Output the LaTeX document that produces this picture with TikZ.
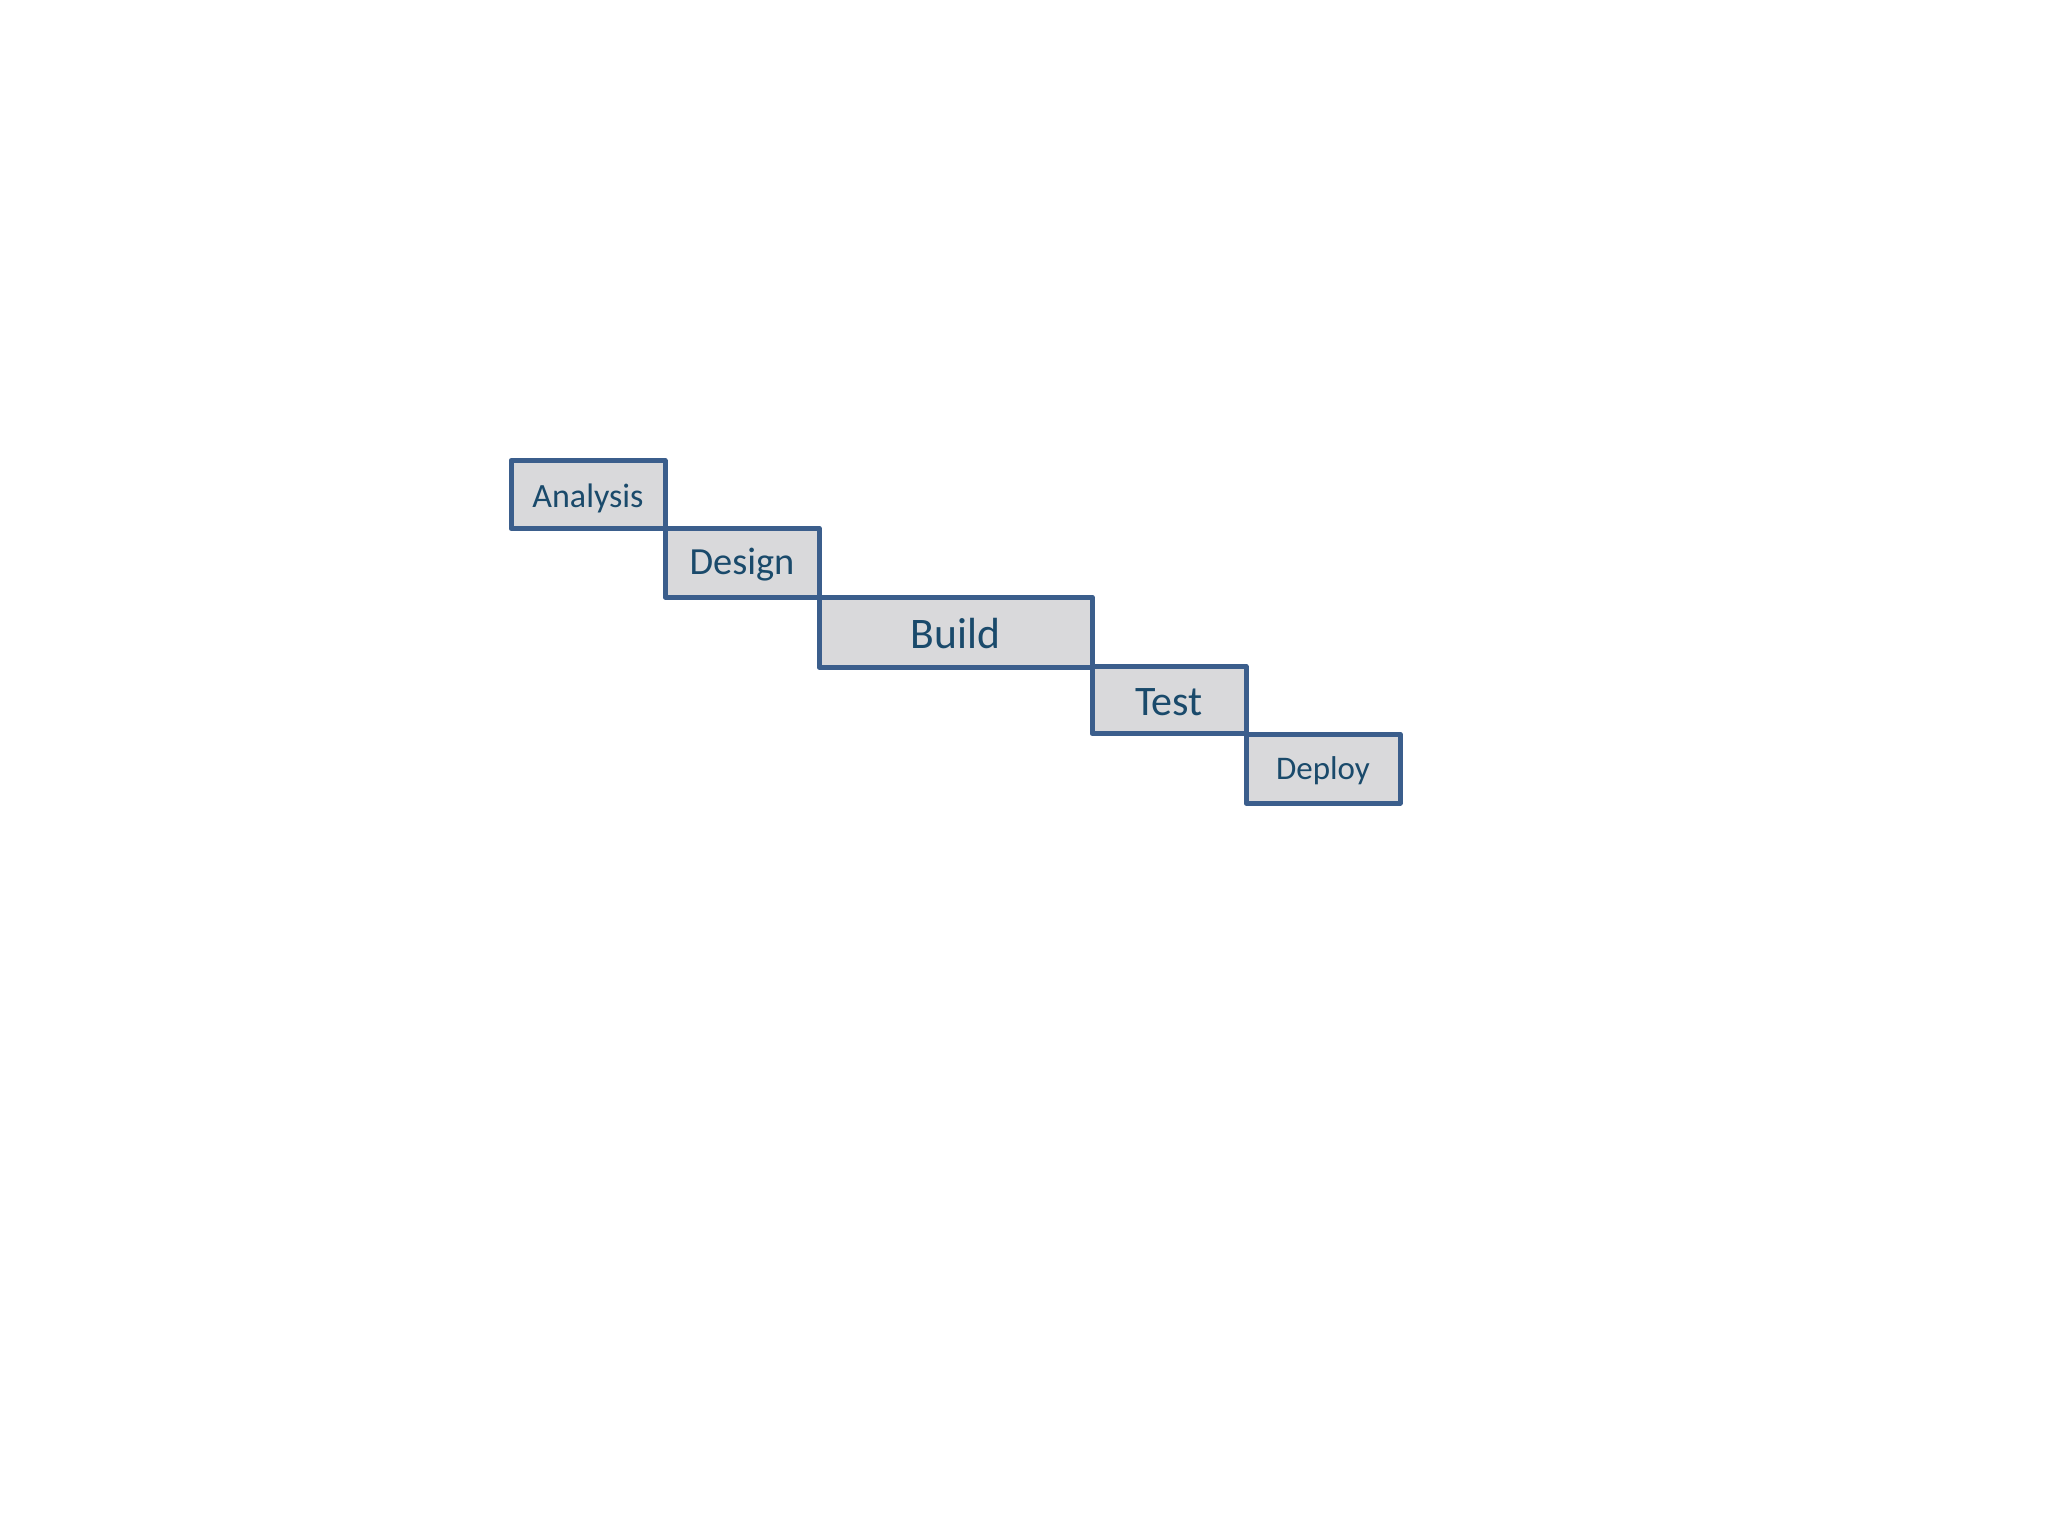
\documentclass[tikz,border=0pt]{standalone}
\usepackage{fontspec}
\setmainfont{Carlito}
\definecolor{boxline}{HTML}{3B5E8C}
\definecolor{boxfill}{HTML}{D9D9DB}
\definecolor{boxtext}{HTML}{1A4A6B}
\tikzset{
  phase/.style={draw=boxline, fill=boxfill, line width=2.5pt, rectangle,
    text=boxtext, inner sep=0pt, minimum height=34pt, line join=round,
    text depth=0pt},
}
\begin{document}
\begin{tikzpicture}[x=0.5pt,y=-0.5pt]
\useasboundingbox (0,0) rectangle (2048,1536);
\node[phase, minimum width=77pt, text height=12.6pt, font=\fontsize{17}{20}\selectfont] (analysis) at (588,494.5) {Analysis};
\node[phase, minimum width=77pt, minimum height=34.5pt, text height=12.2pt, font=\fontsize{19.2}{22}\selectfont] (design) at (742,562.5) {Design};
\node[phase, minimum width=136.5pt, minimum height=35pt, text height=16.6pt, font=\fontsize{21.8}{25}\selectfont] (build) at (955.5,632) {Build};
\node[phase, minimum width=77pt, minimum height=33.5pt, text height=15pt, font=\fontsize{21}{25}\selectfont] (test) at (1169,700) {Test};
\node[phase, minimum width=77pt, minimum height=34.5pt, text height=10.5pt, font=\fontsize{16.5}{20}\selectfont] (deploy) at (1323,768.5) {Deploy};
\end{tikzpicture}
\end{document}
